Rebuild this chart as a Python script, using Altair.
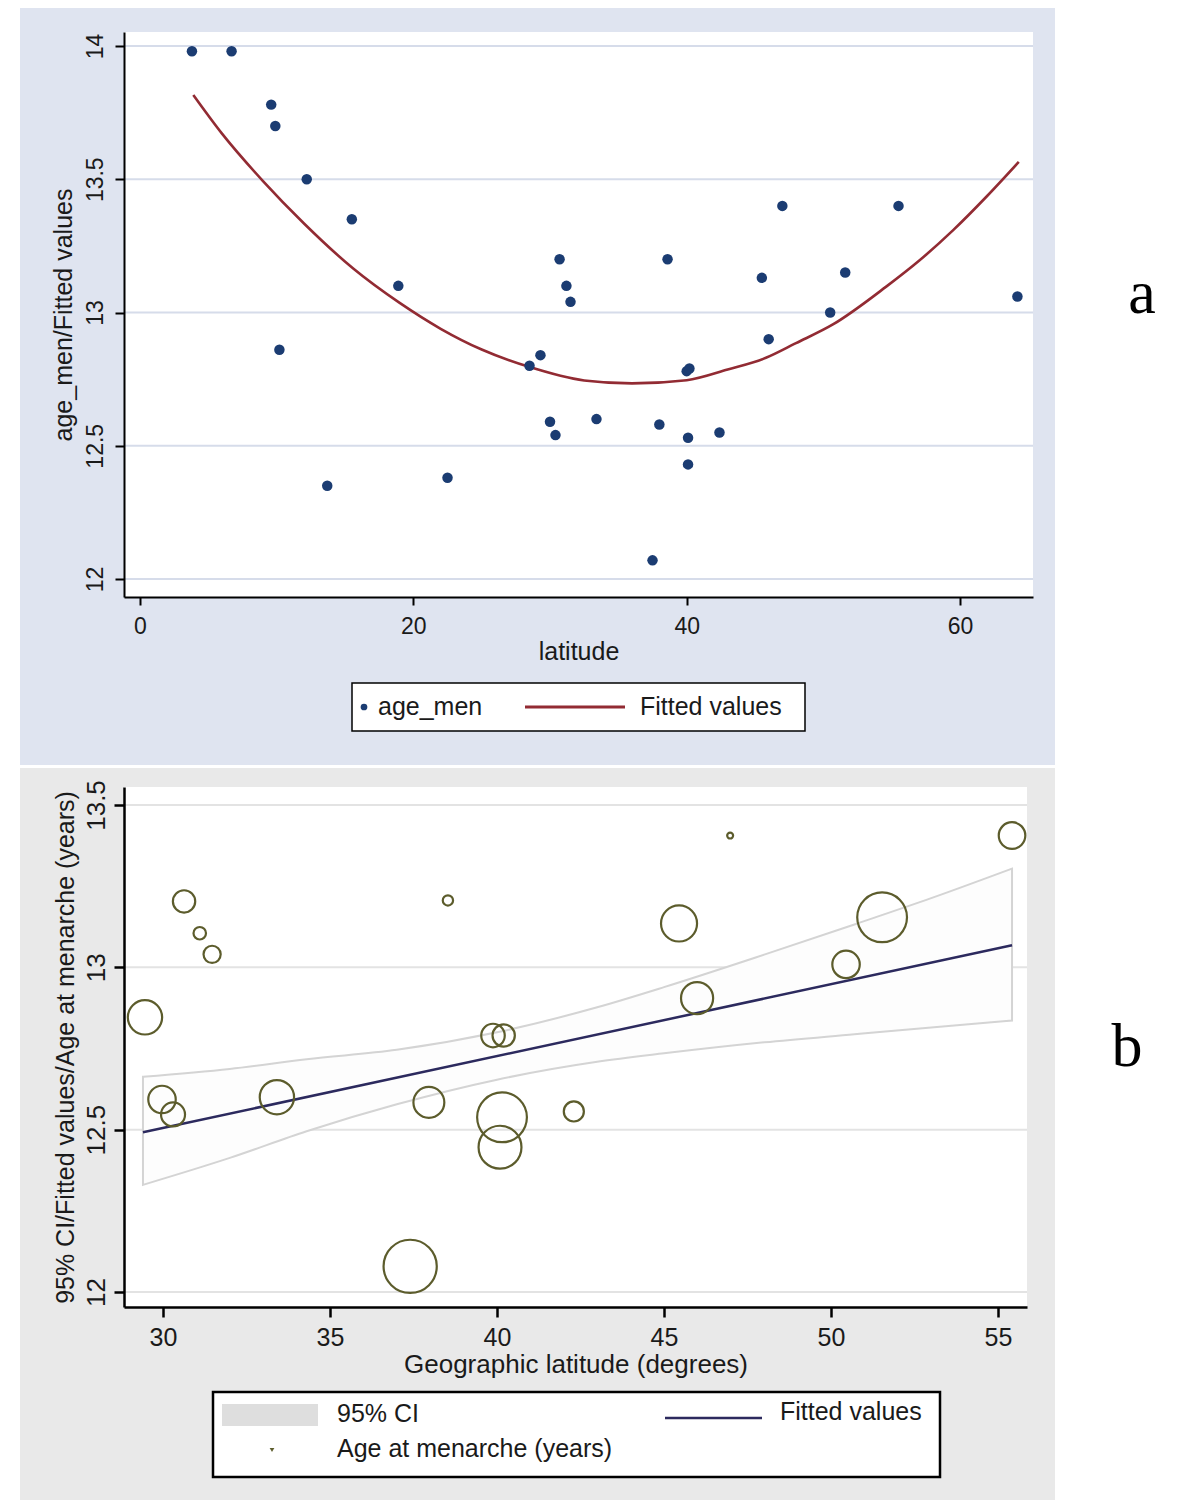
import altair as alt
import pandas as pd

# ---------------- Panel a : age_men vs latitude ----------------
lat_a = [3.8, 6.7, 9.6, 9.9, 12.2, 15.5, 18.9, 10.2, 13.7, 22.5,
         28.5, 29.3, 30.7, 31.2, 31.5, 30.0, 30.4, 33.4, 38.6, 38.0,
         37.5, 40.0, 40.2, 40.1, 40.1, 42.4, 45.5, 46.0, 47.0, 50.5,
         51.6, 55.5, 64.2]
age_a = [13.98, 13.98, 13.78, 13.70, 13.50, 13.35, 13.10, 12.86, 12.35, 12.38,
         12.80, 12.84, 13.20, 13.10, 13.04, 12.59, 12.54, 12.60, 13.20, 12.58,
         12.07, 12.78, 12.79, 12.53, 12.43, 12.55, 13.13, 12.90, 13.40, 13.00,
         13.15, 13.40, 13.06]
fit_lat_a = [3.9, 6, 9, 12, 15.6, 19, 22, 25, 28.4, 32.5, 36, 40, 43, 45.8,
             48, 50.7, 54.6, 57, 59.5, 62, 64.3]
fit_val_a = [13.816, 13.671, 13.493, 13.334, 13.165, 13.036, 12.939, 12.861,
             12.797, 12.745, 12.734, 12.746, 12.786, 12.830, 12.885, 12.955,
             13.097, 13.194, 13.309, 13.438, 13.565]
xticks_a = [0, 20, 40, 60]
yticks_a = [12, 12.5, 13, 13.5, 14]

# ---------------- Panel b : age at menarche, weighted ----------------
lat_b = [29.46, 29.97, 30.3, 30.63, 31.1, 31.47, 33.41, 37.4, 37.96, 38.53,
         39.88, 40.2, 40.15, 40.09, 42.3, 45.45, 45.99, 46.98, 50.45, 51.53, 55.42]
age_b = [12.846, 12.593, 12.547, 13.203, 13.105, 13.04, 12.60, 12.079, 12.584, 13.206,
         12.79, 12.79, 12.538, 12.446, 12.556, 13.135, 12.905, 13.406, 13.009, 13.154, 13.406]
weight_b = [400, 256, 196, 169, 53, 100, 400, 961, 324, 36,
            188, 169, 841, 625, 137, 441, 350, 12, 256, 841, 240]
fit_lat_b = [29.4, 55.42]
fit_val_b = [12.492, 13.068]
ci_lat_b = [29.4, 32, 34.3, 37, 40, 43, 45, 48, 50.7, 53, 55.42]
ci_hi_b = [12.663, 12.687, 12.717, 12.746, 12.800, 12.877, 12.939, 13.039, 13.132, 13.213, 13.304]
ci_lo_b = [12.330, 12.413, 12.495, 12.578, 12.654, 12.709, 12.735, 12.769, 12.794, 12.815, 12.836]
xticks_b = [30, 35, 40, 45, 50, 55]
yticks_b = [12, 12.5, 13, 13.5]

FONT_A = "Liberation Sans, Arial, Helvetica, sans-serif"
FONT_B = "Liberation Sans, Arial, Helvetica, sans-serif"
SERIF = "Liberation Serif, Times New Roman, serif"

one = pd.DataFrame({"k": [0]})


def rect(x1, x2, y1, y2, **kw):
    return alt.Chart(one).mark_rect(**kw).encode(
        x=alt.value(x1), x2=alt.value(x2), y=alt.value(y1), y2=alt.value(y2))


def label(txt, x, y, **kw):
    return alt.Chart(one).mark_text(text=txt, **kw).encode(x=alt.value(x), y=alt.value(y))


def hline(x1, x2, y, **kw):
    return alt.Chart(one).mark_rule(**kw).encode(
        x=alt.value(x1), x2=alt.value(x2), y=alt.value(y))


common_axis = dict(domainColor="black", tickColor="black", grid=False, zindex=1,
                   labelColor="#1a1a1a", titleColor="#1a1a1a", titleFontWeight="normal")

# ---------------- Panel a ----------------
WA, HA = 909, 565
NAVY_A = "#1b3c72"
RED_A = "#922b33"
xa = alt.X("lat:Q", scale=alt.Scale(domain=[-1.171, 65.34], nice=False, zero=False),
           axis=alt.Axis(values=xticks_a, title="latitude", tickSize=8, tickWidth=2,
                         domainWidth=2, labelFont=FONT_A, labelFontSize=23, labelPadding=10,
                         titleFont=FONT_A, titleFontSize=25, titlePadding=1, **common_axis))
ya = alt.Y("val:Q", scale=alt.Scale(domain=[11.9325, 14.0525], nice=False, zero=False),
           axis=alt.Axis(values=yticks_a, format="~g", title="age_men/Fitted values",
                         tickSize=9, tickWidth=2, domainWidth=2, labelAngle=270,
                         labelAlign="center", labelBaseline="bottom", labelFont=FONT_A,
                         labelFontSize=23, labelPadding=8, titleFont=FONT_A,
                         titleFontSize=25, titlePadding=8, **common_axis))

df_pts_a = pd.DataFrame({"lat": lat_a, "val": age_a})
df_fit_a = pd.DataFrame({"lat": fit_lat_a, "val": fit_val_a})
df_grid_a = pd.DataFrame({"val": yticks_a})

bg_a = rect(-104, 931, -24, 733, color="#dfe4f0")
plot_a = rect(0, WA, 0, HA, color="white")
grid_a = alt.Chart(df_grid_a).mark_rule(color="#d6dcea", strokeWidth=2).encode(y=ya)
fit_a = alt.Chart(df_fit_a).mark_line(color=RED_A, strokeWidth=2.6,
                                      interpolate="monotone").encode(x=xa, y=ya)
pts_a = alt.Chart(df_pts_a).mark_circle(color=NAVY_A, size=110, opacity=1).encode(x=xa, y=ya)

leg_a = [
    rect(228, 681, 651, 699, fill="white", stroke="black", strokeWidth=1.5),
    alt.Chart(one).mark_circle(color=NAVY_A, size=45, opacity=1).encode(
        x=alt.value(240), y=alt.value(675)),
    label("age_men", 254, 675, font=FONT_A, fontSize=25, align="left",
          baseline="middle", color="#1a1a1a"),
    hline(401, 501, 675, color=RED_A, strokeWidth=3),
    label("Fitted values", 516, 675, font=FONT_A, fontSize=25, align="left",
          baseline="middle", color="#1a1a1a"),
]
lab_a = label("a", 1018, 281, font=SERIF, fontSize=62, align="center",
              baseline="alphabetic", color="black")

top = alt.layer(bg_a, plot_a, grid_a, fit_a, pts_a, *leg_a, lab_a).properties(
    width=WA, height=HA)

# ---------------- Panel b ----------------
WB, HB = 903, 520
OLIVE = "#5c5c2c"
NAVY_B = "#2c2a5e"
xb = alt.X("lat:Q", scale=alt.Scale(domain=[28.832, 55.868], nice=False, zero=False),
           axis=alt.Axis(values=xticks_b, title="Geographic latitude (degrees)",
                         tickSize=10, tickWidth=2.5, domainWidth=2.5, labelFont=FONT_B,
                         labelFontSize=25, labelPadding=8, titleFont=FONT_B,
                         titleFontSize=26, titlePadding=1, **common_axis))
yb = alt.Y("val:Q", scale=alt.Scale(domain=[11.9538, 13.5554], nice=False, zero=False),
           axis=alt.Axis(values=yticks_b, format="~g",
                         title="95% CI/Fitted values/Age at menarche (years)",
                         tickSize=10, tickWidth=2.5, domainWidth=2.5, labelAngle=270,
                         labelAlign="center", labelBaseline="bottom", labelFont=FONT_B,
                         labelFontSize=26, labelPadding=5, titleFont=FONT_B,
                         titleFontSize=25, titlePadding=5, **common_axis))

df_pts_b = pd.DataFrame({"lat": lat_b, "val": age_b, "w": weight_b})
df_fit_b = pd.DataFrame({"lat": fit_lat_b, "val": fit_val_b})
df_ci_b = pd.DataFrame({"lat": ci_lat_b, "val": ci_hi_b, "lo": ci_lo_b})
df_grid_b = pd.DataFrame({"val": yticks_b})

bg_b = rect(-104, 931, -19, 713, color="#e9e9e9")
plot_b = rect(0, WB, 0, HB, color="white")
grid_b = alt.Chart(df_grid_b).mark_rule(color="#e3e3e3", strokeWidth=2).encode(y=yb)
ci_b = alt.Chart(df_ci_b).mark_area(fill="#fdfdfd", stroke="#d4d4d4", strokeWidth=2,
                                    interpolate="monotone").encode(
    x=xb, y=yb, y2="lo:Q")
fit_b = alt.Chart(df_fit_b).mark_line(color=NAVY_B, strokeWidth=2.5).encode(x=xb, y=yb)
pts_b = alt.Chart(df_pts_b).mark_point(shape="circle", filled=False, color=OLIVE,
                                       strokeWidth=2.2, opacity=1).encode(
    x=xb, y=yb,
    size=alt.Size("w:Q", scale=alt.Scale(domain=[0, 961], range=[0, 2830]), legend=None))

leg_b = [
    rect(89, 816, 605, 690, fill="white", stroke="black", strokeWidth=2.5),
    rect(98, 194, 617, 639, color="#dedede"),
    label("95% CI", 213, 627, font=FONT_B, fontSize=25, align="left",
          baseline="middle", color="#1a1a1a"),
    hline(541, 638, 631, color=NAVY_B, strokeWidth=2.5),
    label("Fitted values", 656, 625, font=FONT_B, fontSize=25, align="left",
          baseline="middle", color="#1a1a1a"),
    alt.Chart(one).mark_point(shape="triangle-down", filled=True, color=OLIVE, size=22,
                              opacity=1).encode(x=alt.value(148), y=alt.value(663)),
    label("Age at menarche (years)", 213, 662, font=FONT_B, fontSize=25, align="left",
          baseline="middle", color="#1a1a1a"),
]
lab_b = label("b", 1003, 279, font=SERIF, fontSize=62, align="center",
              baseline="alphabetic", color="black")

bottom = alt.layer(bg_b, plot_b, grid_b, ci_b, fit_b, pts_b, *leg_b, lab_b).properties(
    width=WB, height=HB)

chart = alt.vconcat(top, bottom, spacing=3).properties(
    padding={"left": 12, "top": 0, "right": 0, "bottom": 0},
    background="white",
).configure_view(stroke=None)

chart.save("out.html", embed_options={"renderer": "svg", "actions": False})
